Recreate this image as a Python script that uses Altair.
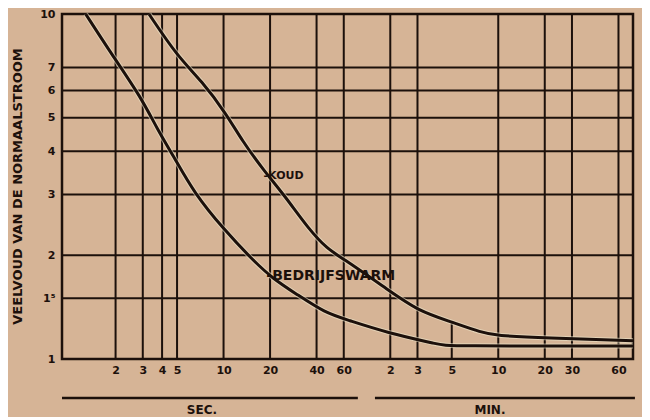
import altair as alt
import pandas as pd

# ---- data ----
koud_t = [3.29, 5.0, 7.24, 10.4, 13.2, 18.2, 25.1, 35.5, 47.8, 56.2, 120, 182, 292, 476, 574, 1200, 4470]
koud_v = [10, 7.56, 6.39, 5.14, 4.29, 3.52, 2.96, 2.38, 2.07, 1.99, 1.57, 1.38, 1.285, 1.19, 1.17, 1.15, 1.13]

warm_t = [1.28, 1.88, 2.91, 3.76, 4.73, 6.47, 10.0, 15.2, 20.8, 29.8, 45.5, 62.8, 115, 255, 269, 4470]
warm_v = [10, 7.66, 5.76, 4.60, 3.88, 3.02, 2.38, 1.95, 1.71, 1.54, 1.36, 1.30, 1.19, 1.10, 1.09, 1.09]

x_ticks = [2, 3, 4, 5, 10, 20, 40, 60, 120, 180, 300, 600, 1200, 1800, 3600]
x_labels = ["2", "3", "4", "5", "10", "20", "40", "60", "2", "3", "5", "10", "20", "30", "60"]
x_grid = [2, 3, 4, 5, 10, 20, 40, 60, 120, 180, 600, 1200, 1800, 3600]
y_ticks = [1, 1.5, 2, 3, 4, 5, 6, 7, 10]
y_labels = ["1", "1⁵", "2", "3", "4", "5", "6", "7", "10"]
y_grid = [1.5, 2, 3, 4, 5, 6, 7]

short_x = [300]
short_y0 = [1]
short_y1 = [1.27]

x_domain = [0.9, 4470]
y_domain = [1, 10]

koud_label = ["-KOUD"]
koud_label_t = [18.7]
koud_label_v = [3.4]
warm_label = ["-BEDRIJFSWARM"]
warm_label_t = [19.5]
warm_label_v = [1.74]

unit_names = ["SEC.", "MIN."]
unit_start = [0.9, 95.5]
unit_end = [74, 4600]
unit_mid = [7.25, 530]

y_title = "VEELVOUD VAN DE NORMAALSTROOM"

# ---- styling ----
INK = "#1c100b"
PAPER = "#d6b496"
FONT = "DejaVu Sans"


def label_expr(vals, labels):
    parts = [f"datum.value == {v} ? '{l}'" for v, l in zip(vals, labels)]
    return " : ".join(parts) + " : ''"


xs = alt.Scale(type="log", domain=x_domain, nice=False)
ys = alt.Scale(type="log", domain=y_domain, nice=False)

x_axis = alt.Axis(values=x_ticks, labelExpr=label_expr(x_ticks, x_labels), grid=False,
                  ticks=False, domain=False, title=None, labelFont=FONT, labelFontSize=11,
                  labelFontWeight="bold", labelColor=INK, labelPadding=5,
                  labelOverlap=False, labelFlush=False)
y_axis = alt.Axis(values=y_ticks, labelExpr=label_expr(y_ticks, y_labels), grid=False,
                  ticks=False, domain=False, title=y_title, labelFont=FONT, labelFontSize=11,
                  labelFontWeight="bold", labelColor=INK, labelPadding=7,
                  labelOverlap=False, labelFlush=False,
                  titleFont=FONT, titleFontSize=13, titleFontWeight="bold", titleColor=INK,
                  titleAngle=270, titleX=-45, titleY=172, titleAlign="center",
                  titleBaseline="middle")


def X(field, **kw):
    return alt.X(field, type="quantitative", scale=xs, axis=x_axis, **kw)


def Y(field, **kw):
    return alt.Y(field, type="quantitative", scale=ys, axis=y_axis, **kw)


vgrid = alt.Chart(pd.DataFrame({"t": x_grid})).mark_rule(color=INK, strokeWidth=2).encode(x=X("t"))
hgrid = alt.Chart(pd.DataFrame({"v": y_grid})).mark_rule(color=INK, strokeWidth=2).encode(y=Y("v"))
short = alt.Chart(pd.DataFrame({"t": short_x, "v0": short_y0, "v1": short_y1})).mark_rule(
    color=INK, strokeWidth=2).encode(x=X("t"), y=Y("v0"), y2="v1")

curves = pd.concat([
    pd.DataFrame({"t": koud_t, "v": koud_v, "s": "koud", "i": range(len(koud_t))}),
    pd.DataFrame({"t": warm_t, "v": warm_v, "s": "warm", "i": range(len(warm_t))}),
])
halo = alt.Chart(curves).mark_line(color="#ece6cc", strokeWidth=5, opacity=0.6,
                                   interpolate="basis").encode(
    x=X("t"), y=Y("v"), detail="s:N", order="i:Q")
lines = alt.Chart(curves).mark_line(color=INK, strokeWidth=3, interpolate="basis").encode(
    x=X("t"), y=Y("v"), detail="s:N", order="i:Q")

koud_text = alt.Chart(pd.DataFrame({"t": koud_label_t, "v": koud_label_v, "txt": koud_label})).mark_text(
    align="left", baseline="middle", font=FONT, fontSize=11, fontWeight="bold", color=INK, dx=-2
).encode(x=X("t"), y=Y("v"), text="txt:N")
warm_text = alt.Chart(pd.DataFrame({"t": warm_label_t, "v": warm_label_v, "txt": warm_label})).mark_text(
    align="left", baseline="middle", font=FONT, fontSize=14, fontWeight="bold", color=INK, dx=-2
).encode(x=X("t"), y=Y("v"), text="txt:N")

units = pd.DataFrame({"name": unit_names, "a": unit_start, "b": unit_end, "m": unit_mid})
brackets = alt.Chart(units).mark_rule(color=INK, strokeWidth=2.5).encode(
    x=X("a"), x2="b", y=alt.value(384))
unit_text = alt.Chart(units).mark_text(font=FONT, fontSize=12, fontWeight="bold", color=INK,
                                       baseline="middle").encode(
    x=X("m"), y=alt.value(396), text="name:N")

chart = alt.layer(vgrid, hgrid, short, halo, lines, koud_text, warm_text, brackets, unit_text).properties(
    width=571, height=345, background=PAPER,
    padding={"left": 54, "top": 6, "right": 9, "bottom": 58},
    autosize=alt.AutoSizeParams(type="none"),
).configure_view(stroke=INK, strokeWidth=2.5)

chart.save("out.html", embed_options={"renderer": "svg", "actions": False})
